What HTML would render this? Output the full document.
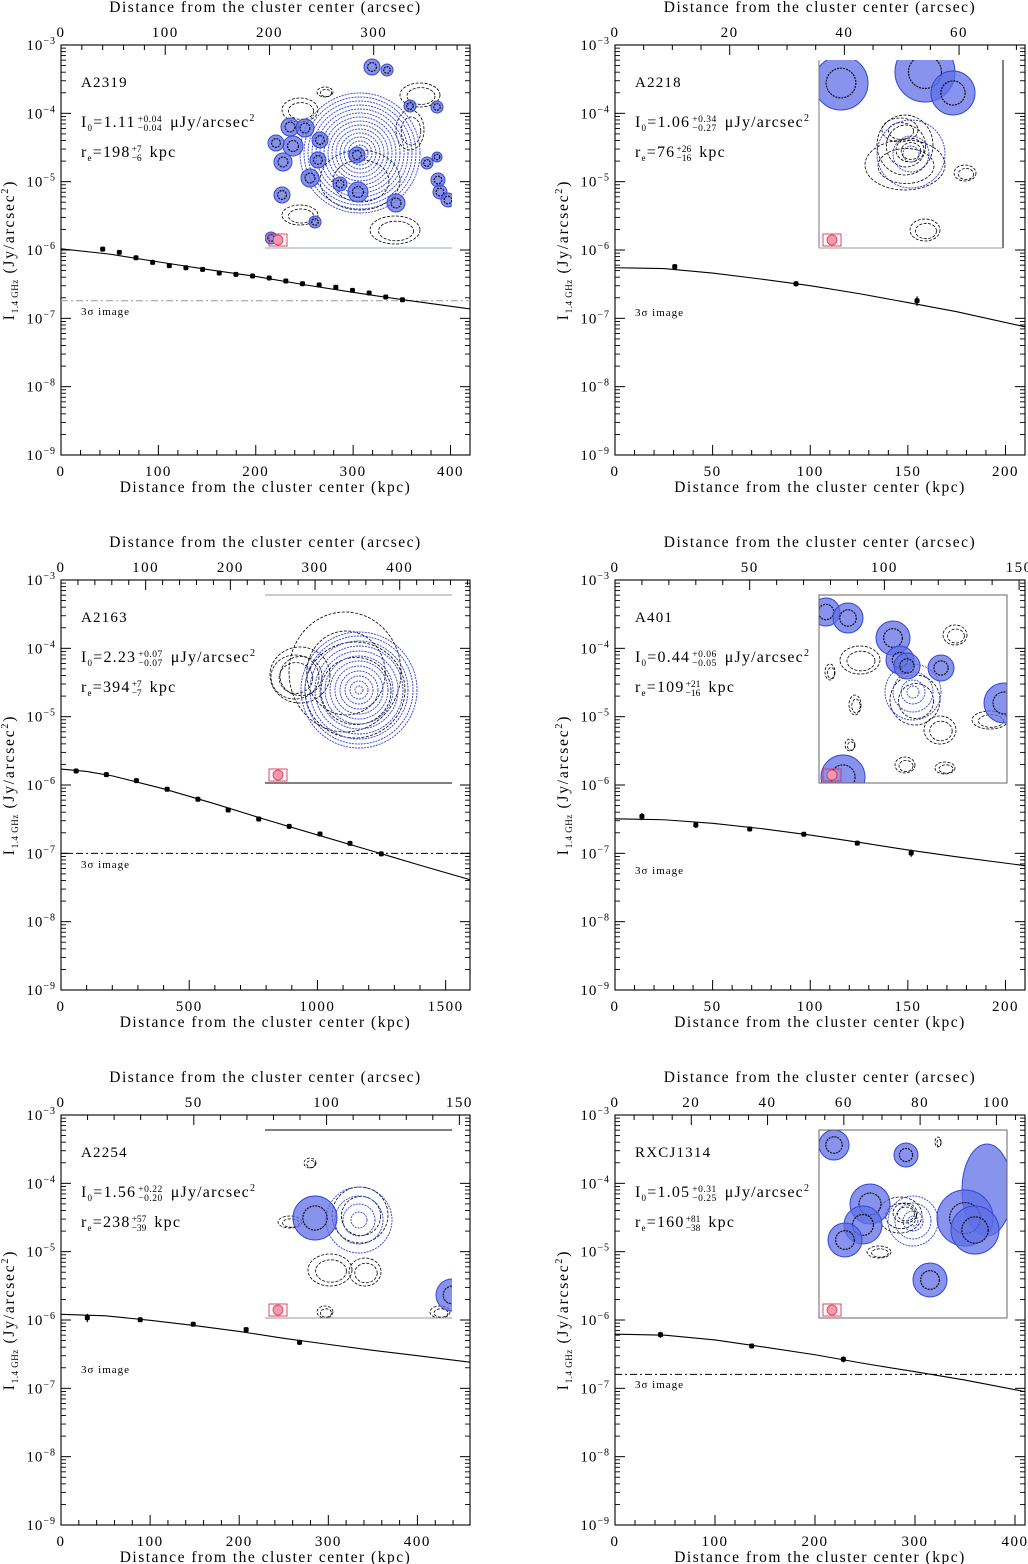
<!DOCTYPE html>
<html><head><meta charset="utf-8"><title>Radio halo profiles</title>
<style>
html,body{margin:0;padding:0;background:#fff;}
svg{display:block;}
text{font-family:"Liberation Serif","DejaVu Serif",serif;fill:#000;}
</style></head>
<body>
<svg id="fig" xmlns="http://www.w3.org/2000/svg" width="1028" height="1564" viewBox="0 0 1028 1564"></svg>
<script>
// ===== DATA =====
const a2319_r = [42.8,59.9,77.0,94.1,111.2,128.3,145.4,162.5,179.6,196.7,213.8,230.9,248.0,265.1,282.2,299.3,316.4,333.5,350.6];
const a2319_I = [1.03e-6,9.25e-7,7.7e-7,6.6e-7,5.9e-7,5.5e-7,5.2e-7,4.6e-7,4.4e-7,4.16e-7,3.89e-7,3.52e-7,3.21e-7,3.07e-7,2.85e-7,2.57e-7,2.35e-7,2.05e-7,1.87e-7];
const a2319_err = [0.04,0.03,0.03,0.03,0.04,0.04,0.03,0.03,0.03,0.03,0.03,0.03,0.03,0.03,0.03,0.03,0.03,0.03,0.03];
const a2319_mr = [0,50,100,150,200,250,300,350,420];
const a2319_mI = [1.04e-6,8.7e-7,6.7e-7,5.2e-7,4.1e-7,3.1e-7,2.4e-7,1.88e-7,1.37e-7];
const a2319_sigma = 1.81e-7;

const a2218_r = [30.6,92.7,154.7];
const a2218_I = [5.7e-7,3.21e-7,1.81e-7];
const a2218_err = [0.08,0.09,0.16];
const a2218_mr = [0,25,50,75,100,125,150,175,210];
const a2218_mI = [5.5e-7,5.35e-7,4.6e-7,3.75e-7,3.0e-7,2.3e-7,1.7e-7,1.25e-7,7.5e-8];
const a2218_sigma = null;

const a2163_r = [59,177,294,414,534,652,771,890,1010,1127,1249];
const a2163_I = [1.6e-6,1.42e-6,1.16e-6,8.65e-7,6.18e-7,4.31e-7,3.18e-7,2.48e-7,1.92e-7,1.4e-7,9.8e-8];
const a2163_err = [0.04,0.03,0.04,0.04,0.04,0.03,0.03,0.04,0.05,0.05,0.05];
const a2163_mr = [0,100,200,400,600,800,1000,1200,1400,1600];
const a2163_mI = [1.71e-6,1.58e-6,1.36e-6,8.8e-7,5.3e-7,3.1e-7,1.86e-7,1.12e-7,6.7e-8,4.07e-8];
const a2163_sigma = 1.0e-7;

const a401_r = [13.8,41.4,69.0,96.7,124.1,151.7];
const a401_I = [3.48e-7,2.6e-7,2.27e-7,1.9e-7,1.41e-7,1.01e-7];
const a401_err = [0.12,0.1,0.05,0.06,0.08,0.12];
const a401_mr = [0,25,50,75,100,125,150,175,210];
const a401_mI = [3.2e-7,3.1e-7,2.75e-7,2.3e-7,1.85e-7,1.45e-7,1.12e-7,8.9e-8,6.6e-8];
const a401_sigma = null;

const a2254_r = [29.5,88.9,148.4,207.8,267.7];
const a2254_I = [1.08e-6,1.01e-6,8.65e-7,7.23e-7,4.71e-7];
const a2254_err = [0.14,0.06,0.06,0.06,0.09];
const a2254_mr = [0,50,100,150,200,250,300,350,400,460];
const a2254_mI = [1.21e-6,1.15e-6,9.9e-7,8.3e-7,6.8e-7,5.4e-7,4.4e-7,3.6e-7,3.0e-7,2.4e-7];
const a2254_sigma = null;

const rxcj_r = [45.4,136.7,228.4];
const rxcj_I = [6.1e-7,4.16e-7,2.66e-7];
const rxcj_err = [0.1,0.08,0.1];
const rxcj_mr = [0,50,100,150,200,250,300,350,410];
const rxcj_mI = [6.2e-7,6.0e-7,5.1e-7,4.0e-7,3.1e-7,2.3e-7,1.75e-7,1.32e-7,8.95e-8];
const rxcj_sigma = 1.6e-7;

const yTickExps = [-3,-4,-5,-6,-7,-8,-9];

// ===== LAYOUT =====
const NS = "http://www.w3.org/2000/svg";
const fig = document.getElementById('fig');
function el(tag, attrs, parent){
  const e = document.createElementNS(NS, tag);
  for (const k in attrs) e.setAttribute(k, attrs[k]);
  (parent||fig).appendChild(e);
  return e;
}

const panels = [
  {id:'a2319', L:61, R:470, T:45, B:455, kmax:420, amax:392.4, kmaj:100, kmin:20, amaj:100, amin:20,
   r:a2319_r, I:a2319_I, err:a2319_err, mr:a2319_mr, mI:a2319_mI, sigma:a2319_sigma, sigCol:'#999',
   name:'A2319', i0:'1.11', i0p:'+0.04', i0m:'−0.04', re:'198', rep:'+7', rem:'−6', sigY:315},
  {id:'a2218', L:615, R:1025, T:45, B:455, kmax:210, amax:71.5, kmaj:50, kmin:10, amaj:20, amin:5,
   r:a2218_r, I:a2218_I, err:a2218_err, mr:a2218_mr, mI:a2218_mI, sigma:a2218_sigma, sigCol:'#000',
   name:'A2218', i0:'1.06', i0p:'+0.34', i0m:'−0.27', re:'76', rep:'+26', rem:'−16', sigY:316},
  {id:'a2163', L:61, R:470, T:580, B:990, kmax:1595, amax:483, kmaj:500, kmin:100, amaj:100, amin:20,
   r:a2163_r, I:a2163_I, err:a2163_err, mr:a2163_mr, mI:a2163_mI, sigma:a2163_sigma, sigCol:'#000',
   name:'A2163', i0:'2.23', i0p:'+0.07', i0m:'−0.07', re:'394', rep:'+7', rem:'−7', sigY:868},
  {id:'a401', L:615, R:1025, T:580, B:990, kmax:210, amax:152.2, kmaj:50, kmin:10, amaj:50, amin:10,
   r:a401_r, I:a401_I, err:a401_err, mr:a401_mr, mI:a401_mI, sigma:a401_sigma, sigCol:'#000',
   name:'A401', i0:'0.44', i0p:'+0.06', i0m:'−0.05', re:'109', rep:'+21', rem:'−16', sigY:874},
  {id:'a2254', L:61, R:470, T:1115, B:1525, kmax:459, amax:154, kmaj:100, kmin:20, amaj:50, amin:10,
   r:a2254_r, I:a2254_I, err:a2254_err, mr:a2254_mr, mI:a2254_mI, sigma:a2254_sigma, sigCol:'#000',
   name:'A2254', i0:'1.56', i0p:'+0.22', i0m:'−0.20', re:'238', rep:'+57', rem:'−39', sigY:1373},
  {id:'rxcj1314', L:615, R:1025, T:1115, B:1525, kmax:410, amax:107.5, kmaj:100, kmin:20, amaj:20, amin:5,
   r:rxcj_r, I:rxcj_I, err:rxcj_err, mr:rxcj_mr, mI:rxcj_mI, sigma:rxcj_sigma, sigCol:'#000',
   name:'RXCJ1314', i0:'1.05', i0p:'+0.31', i0m:'−0.25', re:'160', rep:'+81', rem:'−38', sigY:1388}
];

function drawPanel(p){
  const g = el('g', {});
  
  
  const xs = k => p.L + (k / p.kmax) * (p.R - p.L);
  const xa = a => p.L + (a / p.amax) * (p.R - p.L);
  const ys = v => p.T + (-3 - Math.log10(v)) / 6 * (p.B - p.T);

  const fr = el('rect', {x:p.L, y:p.T, width:p.R-p.L, height:p.B-p.T, fill:'none', stroke:'#000', 'stroke-width':1.1}, g);
  
  

  for (let k = 0; k <= p.kmax + 1e-6; k += p.kmin){
    const major = Math.abs(k / p.kmaj - Math.round(k / p.kmaj)) < 1e-6;
    const len = major ? 10 : 5;
    const x = xs(k);
    el('line', {x1:x, y1:p.B, x2:x, y2:p.B-len, stroke:'#000', 'stroke-width':1}, g);
    if (major){
      const t = el('text', {x:x, y:p.B+21, 'text-anchor':'middle', 'font-size':15, 'letter-spacing':1.5}, g);
      t.textContent = Math.round(k);
      
      
    }
  }
  for (let a = 0; a <= p.amax + 1e-6; a += p.amin){
    const major = Math.abs(a / p.amaj - Math.round(a / p.amaj)) < 1e-6;
    const len = major ? 10 : 5;
    const x = xa(a);
    el('line', {x1:x, y1:p.T, x2:x, y2:p.T+len, stroke:'#000', 'stroke-width':1}, g);
    if (major){
      const t = el('text', {x:x, y:p.T-8, 'text-anchor':'middle', 'font-size':15, 'letter-spacing':1.5}, g);
      t.textContent = Math.round(a);
      
      
    }
  }
  yTickExps.forEach(e => {
    const y = ys(Math.pow(10, e));
    el('line', {x1:p.L, y1:y, x2:p.L+10, y2:y, stroke:'#000', 'stroke-width':1}, g);
    el('line', {x1:p.R, y1:y, x2:p.R-10, y2:y, stroke:'#000', 'stroke-width':1}, g);
    const t = el('text', {x:p.L-5, y:y+5, 'text-anchor':'end', 'font-size':15, 'letter-spacing':1}, g);
    
    
    const t1 = el('tspan', {}, t); t1.textContent = '10';
    const t2 = el('tspan', {dy:-6, 'font-size':10}, t); t2.textContent = String(e).replace('-', '−');
    if (e > -9){
      for (let m = 2; m <= 9; m++){
        const yy = ys(m * Math.pow(10, e - 1));
        el('line', {x1:p.L, y1:yy, x2:p.L+5, y2:yy, stroke:'#000', 'stroke-width':0.9}, g);
        el('line', {x1:p.R, y1:yy, x2:p.R-5, y2:yy, stroke:'#000', 'stroke-width':0.9}, g);
      }
    }
  });

  const cx = (p.L + p.R) / 2;
  const bt = el('text', {x:cx, y:p.B+37, 'text-anchor':'middle', 'font-size':15.5, 'letter-spacing':1.5}, g);
  bt.textContent = 'Distance from the cluster center (kpc)';
  
  
  const tt = el('text', {x:cx, y:p.T-33, 'text-anchor':'middle', 'font-size':15.5, 'letter-spacing':1.5}, g);
  tt.textContent = 'Distance from the cluster center (arcsec)';
  
  
  const yl = el('text', {transform:'translate(' + (p.L-47) + ',' + ((p.T+p.B)/2) + ') rotate(-90)', 'text-anchor':'middle', 'font-size':15.5, 'letter-spacing':1.8}, g);
  
  
  const y1 = el('tspan', {}, yl); y1.textContent = 'I';
  const y2 = el('tspan', {dy:4, 'font-size':9, 'letter-spacing':0.5}, yl); y2.textContent = '1.4 GHz';
  const y3 = el('tspan', {dy:-4}, yl); y3.textContent = ' (Jy/arcsec';
  const y4 = el('tspan', {dy:-6, 'font-size':10}, yl); y4.textContent = '2';
  const y5 = el('tspan', {dy:6}, yl); y5.textContent = ')';

  const cp = el('clipPath', {id:'clip-' + p.id}, g);
  el('rect', {x:p.L, y:p.T, width:p.R-p.L, height:p.B-p.T}, cp);

  drawInset(p, g);

  if (p.sigma !== null){
    const ln = el('line', {x1:p.L, x2:p.R, y1:ys(p.sigma), y2:ys(p.sigma), stroke:p.sigCol, 'stroke-width':1, 'stroke-dasharray':'7 3 2 3'}, g);
    
    
  }
  const st = el('text', {x:p.L+20, y:p.sigY, 'font-size':11, fill:'#555', 'letter-spacing':1}, g);
  st.textContent = '3σ image';
  
  

  let d = '';
  p.mr.forEach((r, i) => { d += (i ? 'L' : 'M') + xs(r).toFixed(2) + ' ' + ys(p.mI[i]).toFixed(2); });
  const mc = el('path', {d:d, fill:'none', stroke:'#000', 'stroke-width':1.1, 'clip-path':'url(#clip-' + p.id + ')'}, g);
  
  

  p.r.forEach((r, i) => {
    const x = xs(r), v = p.I[i];
    const yt = ys(v * (1 + p.err[i])), yb = ys(v * (1 - p.err[i]));
    const eb = el('line', {x1:x, x2:x, y1:yt, y2:yb, stroke:'#000', 'stroke-width':1.2}, g);
    
    
    const c = el('rect', {x:x-2.5, y:ys(v)-2.5, width:5, height:5, fill:'#000', rx:1.5}, g);
    
    
  });

  const ax = p.L + 20;
  const nm = el('text', {x:ax, y:p.T+42, 'font-size':15, 'letter-spacing':1.2}, g);
  nm.textContent = p.name;
  
  

  const ag = el('g', {}, g);
  
  
  let ty = p.T + 82;
  let t = el('text', {x:ax, y:ty, 'font-size':16, 'letter-spacing':1.2}, ag);
  let s1 = el('tspan', {}, t); s1.textContent = 'I';
  let s2 = el('tspan', {dy:4, 'font-size':9}, t); s2.textContent = '0';
  let s3 = el('tspan', {dy:-4}, t); s3.textContent = '=' + p.i0;
  let w = t.getComputedTextLength();
  let tp = el('text', {x:ax+w+2, y:ty-5, 'font-size':9.5, 'letter-spacing':0.5}, ag); tp.textContent = p.i0p;
  let tm = el('text', {x:ax+w+2, y:ty+4, 'font-size':9.5, 'letter-spacing':0.5}, ag); tm.textContent = p.i0m;
  let sw = Math.max(tp.getComputedTextLength(), tm.getComputedTextLength());
  let tu = el('text', {x:ax+w+sw+10, y:ty, 'font-size':16, 'letter-spacing':1.2}, ag);
  let u1 = el('tspan', {}, tu); u1.textContent = 'μJy/arcsec';
  let u2 = el('tspan', {dy:-6, 'font-size':10}, tu); u2.textContent = '2';
  ty = p.T + 112;
  t = el('text', {x:ax, y:ty, 'font-size':16, 'letter-spacing':1.2}, ag);
  s1 = el('tspan', {}, t); s1.textContent = 'r';
  s2 = el('tspan', {dy:4, 'font-size':9}, t); s2.textContent = 'e';
  s3 = el('tspan', {dy:-4}, t); s3.textContent = '=' + p.re;
  w = t.getComputedTextLength();
  tp = el('text', {x:ax+w+1, y:ty-5, 'font-size':9.5}, ag); tp.textContent = p.rep;
  tm = el('text', {x:ax+w+1, y:ty+4, 'font-size':9.5}, ag); tm.textContent = p.rem;
  sw = Math.max(tp.getComputedTextLength(), tm.getComputedTextLength());
  tu = el('text', {x:ax+w+sw+9, y:ty, 'font-size':16, 'letter-spacing':1.2}, ag); tu.textContent = 'kpc';
}

// ===== INSETS (decorative radio/X-ray overlays) =====
const insets = {
  a2319:{x:265,y:58,w:187,h:190,frame:'bottom',fcol:'#9aa',center:[360,153],rings:[4,8,12,16,20,24,28,32,36,40,44,48,52,56,60],
    blobs:[[372,67,8],[387,70,6],[410,106,6],[437,107,6],[357,155,8],[290,127,9],[305,128,9],[320,140,8],[293,146,10],[318,160,8],[283,162,9],[276,143,8],[310,178,9],[282,195,8],[271,238,6],[315,222,6],[340,184,7],[358,192,10],[396,203,9],[427,163,6],[438,180,7],[440,192,7],[448,200,7],[437,157,5]],
    cont:[[300,110,18,12],[325,92,8,5],[420,95,20,12],[410,130,14,20],[395,230,25,14],[300,215,18,10],[360,180,40,30]]},
  a2218:{x:819,y:60,w:184,h:188,frame:'box3',fcol:'#000',center:[911,154],rings:[8,18,34],
    blobs:[[841,83,27],[925,72,30],[953,93,22]],
    cont:[[905,145,28,30],[910,150,14,12],[905,165,40,25],[925,230,15,11],[965,173,11,8],[900,130,18,12]]},
  a2163:{x:265,y:595,w:187,h:188,frame:'topbottom',fcol:'#000',center:[359,690],rings:[4,9,14,19,24,29,34,39,44,49,54,58],
    blobs:[],
    cont:[[295,677,24,22],[300,675,30,28],[355,690,50,48],[345,672,56,60]]},
  a401:{x:819,y:595,w:188,h:188,frame:'box',fcol:'#000',center:[913,692],rings:[6,12,20,28],
    blobs:[[826,612,14],[848,618,15],[893,638,17],[900,660,14],[907,666,13],[941,668,13],[1004,703,20],[843,777,22]],
    cont:[[860,660,20,14],[955,635,12,10],[915,700,25,25],[940,730,16,14],[990,720,18,9],[905,765,10,8],[855,705,6,10],[850,745,5,6],[830,672,5,8],[945,768,10,6]]},
  a2254:{x:265,y:1130,w:187,h:188,frame:'topbottom2',fcol:'#000',center:[359,1220],rings:[8,16,24,33],
    blobs:[[315,1218,22],[452,1295,16]],
    cont:[[330,1270,22,16],[365,1272,16,14],[360,1215,28,28],[310,1163,6,5],[290,1222,12,6],[325,1312,8,6],[440,1312,10,6]]},
  rxcj1314:{x:819,y:1130,w:188,h:188,frame:'box',fcol:'#000',center:[913,1221],rings:[5,10,18,25],
    blobs:[[834,1145,15],[906,1155,12],[870,1204,20],[863,1225,19],[845,1240,17],[930,1280,17],[965,1218,28],[975,1230,24]],
    cont:[[905,1213,12,10],[900,1215,22,18],[879,1252,12,6],[938,1142,3,5]],
    ell:[[987,1190,25,46]]}
};

function drawInset(p, g){
  const c = insets[p.id];
  const ig = el('g', {}, g);
  
  
  const cp = el('clipPath', {id:'iclip-' + p.id}, ig);
  el('rect', {x:c.x, y:c.y, width:c.w, height:c.h}, cp);
  const cg = el('g', {'clip-path':'url(#iclip-' + p.id + ')'}, ig);
  c.cont.forEach(k => {
    el('ellipse', {cx:k[0], cy:k[1], rx:k[2], ry:k[3], fill:'none', stroke:'#000', 'stroke-width':0.8, 'stroke-dasharray':'3 1.5'}, cg);
    el('ellipse', {cx:k[0]+1, cy:k[1]+1, rx:k[2]*0.7, ry:k[3]*0.7, fill:'none', stroke:'#000', 'stroke-width':0.8, 'stroke-dasharray':'3 1.5'}, cg);
  });
  c.rings.forEach(r => {
    el('circle', {cx:c.center[0], cy:c.center[1], r:r, fill:'none', stroke:'#2b3fd6', 'stroke-width':0.9, 'stroke-dasharray':'2 1'}, cg);
  });
  (c.ell||[]).forEach(b => {
    el('ellipse', {cx:b[0], cy:b[1], rx:b[2], ry:b[3], fill:'#5f6fe6', 'fill-opacity':0.75, stroke:'#3347d8', 'stroke-width':1}, cg);
  });
  c.blobs.forEach(b => {
    el('circle', {cx:b[0], cy:b[1], r:b[2], fill:'#5f6fe6', 'fill-opacity':0.75, stroke:'#3347d8', 'stroke-width':1}, cg);
    el('circle', {cx:b[0], cy:b[1], r:b[2]*0.55, fill:'none', stroke:'#111', 'stroke-width':1.2, 'stroke-dasharray':'2 1'}, cg);
  });
  const by = c.y + c.h - 14;
  const bx = c.x + 4;
  el('rect', {x:bx, y:by, width:18, height:12, fill:'none', stroke:'#e03050', 'stroke-width':0.9}, ig);
  el('circle', {cx:bx+9, cy:by+6, r:5, fill:'#f59aae', stroke:'#e03050', 'stroke-width':0.8}, ig);
  const fs = {stroke:c.fcol, 'stroke-width':1};
  const X0 = c.x, X1 = c.x + c.w, Y0 = c.y, Y1 = c.y + c.h;
  if (c.frame === 'bottom'){
    el('line', Object.assign({x1:X0, x2:X1, y1:Y1, y2:Y1}, fs, {stroke:'#9aa'}), ig);
  } else if (c.frame === 'box3'){
    el('line', Object.assign({x1:X0, x2:X0, y1:Y0, y2:Y1}, fs, {stroke:'#777'}), ig);
    el('line', Object.assign({x1:X1, x2:X1, y1:Y0, y2:Y1}, fs), ig);
    el('line', Object.assign({x1:X0, x2:X1, y1:Y1, y2:Y1}, fs, {stroke:'#999'}), ig);
  } else if (c.frame === 'topbottom'){
    el('line', Object.assign({x1:X0, x2:X1, y1:Y0, y2:Y0}, fs, {stroke:'#999'}), ig);
    el('line', Object.assign({x1:X0, x2:X1, y1:Y1, y2:Y1}, fs), ig);
  } else if (c.frame === 'topbottom2'){
    el('line', Object.assign({x1:X0, x2:X1, y1:Y0, y2:Y0}, fs), ig);
    el('line', Object.assign({x1:X0, x2:X1, y1:Y1, y2:Y1}, fs, {stroke:'#999'}), ig);
  } else {
    el('rect', {x:X0, y:Y0, width:c.w, height:c.h, fill:'none', stroke:'#666', 'stroke-width':1}, ig);
  }
}

panels.forEach(drawPanel);
</script>
</body></html>
